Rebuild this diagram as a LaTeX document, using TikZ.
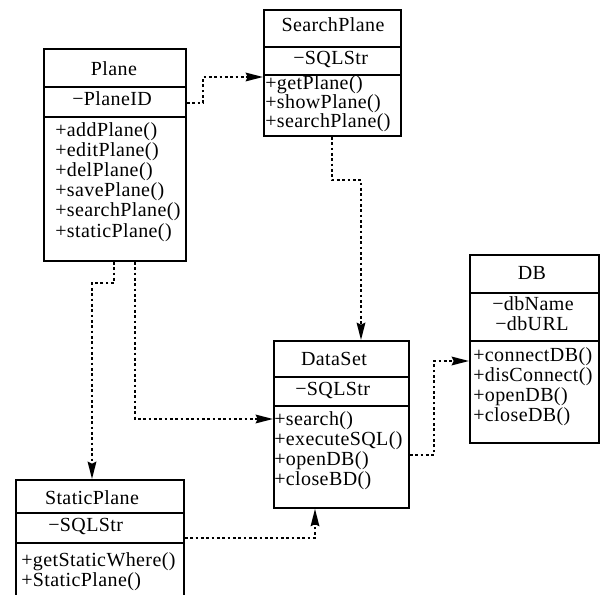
\documentclass[tikz,border=0pt]{standalone}
\usepackage{fontspec}
\setmainfont[LetterSpace=2]{Liberation Serif}
\usetikzlibrary{arrows.meta}
\begin{document}
\begin{tikzpicture}[x=0.75pt,y=-0.75pt,
  umlbox/.style={draw, line width=1.4pt, inner sep=0pt, anchor=north west},
  sep/.style={line width=1.4pt},
  ttl/.style={anchor=mid, inner sep=0pt, font=\fontsize{15pt}{15pt}\selectfont},
  txt/.style={anchor=mid west, inner sep=0pt, font=\fontsize{15pt}{15pt}\selectfont},
  dep/.style={line width=1.4pt, dash pattern=on 2pt off 2pt,
    -{Stealth[length=13pt,width=6.5pt,inset=1.5pt]}}]
\useasboundingbox (0,0) rectangle (600,595);
\clip (0,0) rectangle (600,595);

% Plane
\node[umlbox, minimum width=142*0.75pt, minimum height=212*0.75pt] (plane) at (43,48) {};
\draw[sep] (plane.west |- 0,87) -- (plane.east |- 0,87);
\draw[sep] (plane.west |- 0,117) -- (plane.east |- 0,117);
\node[ttl] (planeT) at (114,72) {Plane};
\node[txt] (planeA) at (72,102) {−PlaneID};
\node[txt] (planeM1) at (55,133) {+addPlane()};
\node[txt] (planeM2) at (55,153) {+editPlane()};
\node[txt] (planeM3) at (55,173) {+delPlane()};
\node[txt] (planeM4) at (55,193) {+savePlane()};
\node[txt] (planeM5) at (55,213) {+searchPlane()};
\node[txt] (planeM6) at (55,234) {+staticPlane()};

% SearchPlane
\node[umlbox, minimum width=137*0.75pt, minimum height=126*0.75pt] (search) at (263,9) {};
\draw[sep] (search.west |- 0,47) -- (search.east |- 0,47);
\draw[sep] (search.west |- 0,75) -- (search.east |- 0,75);
\node[ttl] (searchT) at (333,28) {SearchPlane};
\node[txt] (searchA) at (293,61) {−SQLStr};
\node[txt] (searchM1) at (265,86) {+getPlane()};
\node[txt] (searchM2) at (265,105) {+showPlane()};
\node[txt] (searchM3) at (265,124) {+searchPlane()};

% DataSet
\node[umlbox, minimum width=135*0.75pt, minimum height=167*0.75pt] (dataset) at (273,340) {};
\draw[sep] (dataset.west |- 0,377) -- (dataset.east |- 0,377);
\draw[sep] (dataset.west |- 0,406) -- (dataset.east |- 0,406);
\node[ttl] (dataT) at (334,362) {DataSet};
\node[txt] (dataA) at (295,392) {−SQLStr};
\node[txt] (dataM1) at (274,422) {+search()};
\node[txt] (dataM2) at (274,442) {+executeSQL()};
\node[txt] (dataM3) at (274,462) {+openDB()};
\node[txt] (dataM4) at (274,482) {+closeBD()};

% DB
\node[umlbox, minimum width=129*0.75pt, minimum height=188*0.75pt] (db) at (469,254) {};
\draw[sep] (db.west |- 0,293) -- (db.east |- 0,293);
\draw[sep] (db.west |- 0,341) -- (db.east |- 0,341);
\node[ttl] (dbT) at (532,276) {DB};
\node[txt] (dbA1) at (492,307) {−dbName};
\node[txt] (dbA2) at (495,327) {−dbURL};
\node[txt] (dbM1) at (473,358) {+connectDB()};
\node[txt] (dbM2) at (473,378) {+disConnect()};
\node[txt] (dbM3) at (473,398) {+openDB()};
\node[txt] (dbM4) at (473,418) {+closeDB()};

% StaticPlane
\node[umlbox, minimum width=168*0.75pt, minimum height=140*0.75pt] (staticp) at (15,479) {};
\draw[sep] (staticp.west |- 0,513) -- (staticp.east |- 0,513);
\draw[sep] (staticp.west |- 0,543) -- (staticp.east |- 0,543);
\node[ttl] (staticT) at (92,501) {StaticPlane};
\node[txt] (staticA) at (48,528) {−SQLStr};
\node[txt] (staticM1) at (21,563) {+getStaticWhere()};
\node[txt] (staticM2) at (21,583) {+StaticPlane()};

% connectors
\draw[dep] (plane.east |- 0,103) -| (203,77) -- (search.west |- 0,77);
\draw[dep] (search.south -| 332,0) |- (361,180) -- (dataset.north -| 361,0);
\draw[dep] (plane.south -| 114,0) |- (92,283) -- (staticp.north -| 92,0);
\draw[dep] (plane.south -| 135,0) |- (dataset.west |- 0,419);
\draw[dep] (dataset.east |- 0,455) -| (434,361) -- (db.west |- 0,361);
\draw[dep] (staticp.east |- 0,538) -| (dataset.south -| 315,0);
\end{tikzpicture}
\end{document}
